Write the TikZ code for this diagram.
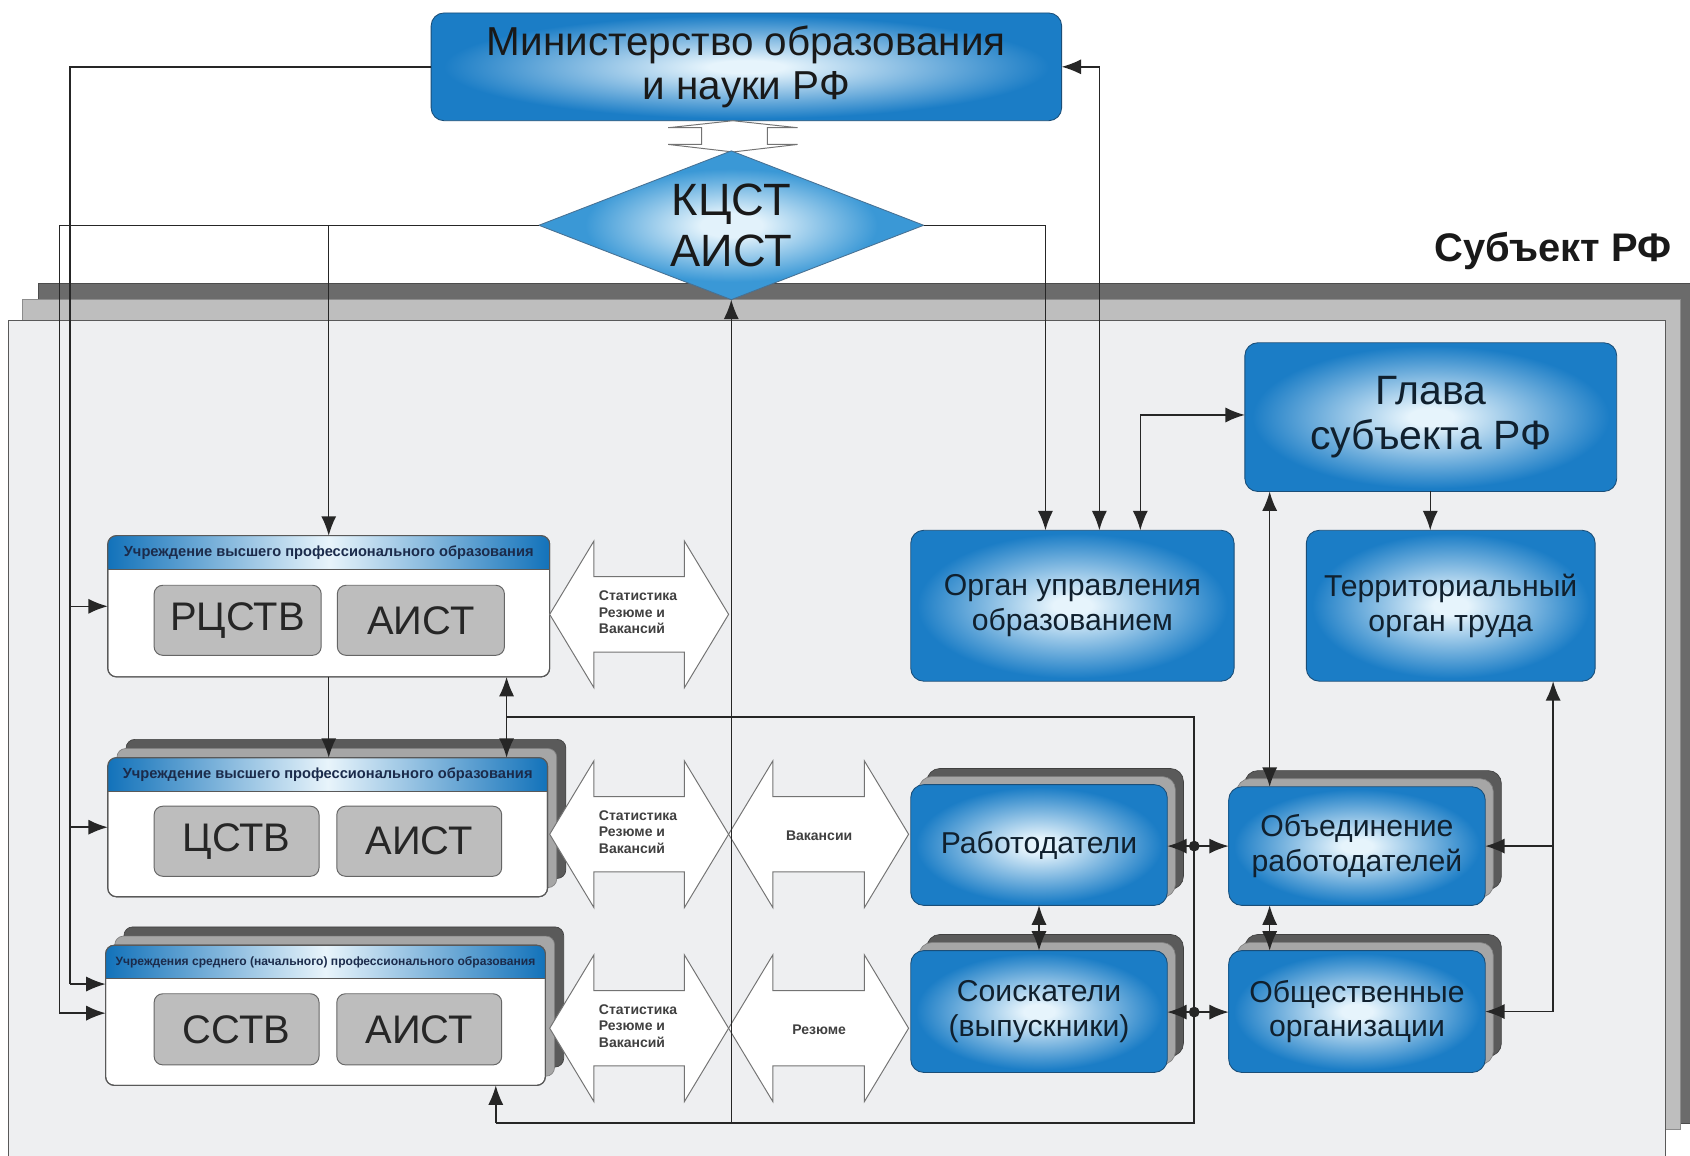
\documentclass[tikz,border=0pt]{standalone}
\usepackage{fontspec}
\setmainfont{Liberation Sans}
\usetikzlibrary{arrows.meta,calc,shapes.geometric}
\pgfdeclarelayer{bg}
\pgfdeclarelayer{stack}
\pgfsetlayers{bg,stack,main}
\definecolor{bxblue}{HTML}{1B7DC6}
\definecolor{bxlight}{HTML}{E6F4FC}
\definecolor{bxedge}{HTML}{1A4E78}
\definecolor{dialight}{HTML}{E2F2FB}
\definecolor{diablue}{HTML}{3A98D6}
\definecolor{hdblue}{HTML}{1272BA}
\definecolor{hdlight}{HTML}{E8F4FB}
\definecolor{panel}{HTML}{EEEFF1}
\definecolor{layerdark}{HTML}{6B6B6B}
\definecolor{layermid}{HTML}{BEBEBE}
\definecolor{stackdark}{HTML}{5A5A5A}
\definecolor{stackmid}{HTML}{A6A6A6}
\definecolor{txt}{HTML}{10202E}
\definecolor{hdtxt}{HTML}{1B2B4B}
\definecolor{innergray}{HTML}{BDBDBD}
\pgfdeclareradialshading{diashade}{\pgfpoint{0bp}{0bp}}{color(0bp)=(dialight); color(4bp)=(dialight); color(19bp)=(diablue); color(50bp)=(diablue)}
\pgfdeclareradialshading{boxshade}{\pgfpoint{0bp}{0bp}}{color(0bp)=(bxlight); color(3bp)=(bxlight); color(24bp)=(bxblue); color(50bp)=(bxblue)}
\tikzset{
  bluebox/.style={rectangle, rounded corners=12pt, draw=bxedge, line width=0.8pt, shading=boxshade, text=txt, align=center, inner sep=0pt, outer sep=0pt, font=\fontsize{28}{32}\selectfont},
  instbox/.style={rectangle, rounded corners=8pt, draw=black!65, fill=white, line width=1pt, inner sep=0pt, outer sep=0pt},
  graybox/.style={rectangle, rounded corners=8pt, draw=black!60, fill=innergray, line width=0.9pt, inner sep=0pt, outer sep=0pt, text=black!85, font=\fontsize{37}{37}\selectfont},
  hdtext/.style={text=hdtxt, inner sep=0pt},
  smalltext/.style={font=\bfseries\fontsize{13}{15}\selectfont, text=black!75, align=left, inner sep=0pt},
  conn/.style={draw=black!85, line width=1.4pt},
  arr/.style={conn, -{Latex[length=18pt,width=14pt]}},
  both/.style={conn, {Latex[length=18pt,width=14pt]}-{Latex[length=18pt,width=14pt]}},
  bigarr/.style={draw=black!55, fill=white, line width=0.9pt, line join=miter},
}
\newcommand{\mkstack}[3]{%
  \begin{pgfonlayer}{stack}
    \filldraw[fill=stackdark, draw=black!75, line width=0.6pt, rounded corners=#3] ($(#1.south west)+(#2,-#2)$) rectangle ($(#1.north east)+(#2,-#2)$);
    \filldraw[fill=stackmid, draw=black!50, line width=0.6pt, rounded corners=#3] ($(#1.south west)+(#2/2,-#2/2)$) rectangle ($(#1.north east)+(#2/2,-#2/2)$);
  \end{pgfonlayer}}
\newcommand{\instheader}[3]{%
  \begin{scope}
    \clip[rounded corners=8pt] (#1.south west) rectangle (#1.north east);
    \shade[left color=hdblue, right color=hdblue, middle color=hdlight] (#1.north west) rectangle ($(#1.north east)+(0,31)$);
  \end{scope}
  \draw[black!65, line width=0.8pt] ($(#1.north west)+(0,31)$) -- ($(#1.north east)+(0,31)$);
  \draw[black!65, line width=1pt, rounded corners=8pt] (#1.south west) rectangle (#1.north east);
  \node[hdtext, font=\bfseries\fontsize{#3}{#3}\selectfont] (#1h) at ($(#1.north)+(0,15.5)$) {#2};}
\newcommand{\hollowarr}[3]{%
  \draw[bigarr] (#1,#3) -- (#1+41,#3-68) -- (#1+41,#3-35) -- (#2-41,#3-35) -- (#2-41,#3-68) -- (#2,#3) -- (#2-41,#3+68) -- (#2-41,#3+35) -- (#1+41,#3+35) -- (#1+41,#3+68) -- cycle;}
\begin{document}
\begin{tikzpicture}[x=1pt,y=-1pt]
\useasboundingbox (0,0) rectangle (1568,1072);
\begin{pgfonlayer}{bg}
  \fill[white] (0,0) rectangle (1568,1072);
  \filldraw[fill=layerdark, draw=black!70, line width=0.6pt] (36,263) rectangle (1600,1042);
  \filldraw[fill=layermid, draw=black!45, line width=0.6pt] (21,278) rectangle (1559,1048);
  \filldraw[fill=panel, draw=black!65, line width=0.9pt] (8,297) rectangle (1545,1100);
\end{pgfonlayer}

\node[font=\bfseries\fontsize{37}{37}\selectfont, text=black!90, inner sep=0pt, anchor=base east] (subj) at (1551,243) {Субъект РФ};

% top
\node[bluebox, minimum width=585pt, minimum height=100pt, font=\fontsize{37.5}{40}\selectfont, text=black!90] (min) at (692.5,62) {Министерство образования\\и науки РФ};
\draw[bigarr] (680,112) -- (740,118.5) -- (712,118.5) -- (712,134) -- (740,134) -- (680,141) -- (620,134) -- (651,134) -- (651,118.5) -- (620,118.5) -- cycle;
\node[diamond, shading=diashade, draw=bxedge!80, line width=0.8pt, minimum width=357pt, minimum height=138pt, inner sep=0pt, outer sep=0pt] (kc) at (678.5,209) {};
\node[font=\fontsize{42}{47}\selectfont, align=center, text=black!90, inner sep=0pt] (kct) at (kc.center) {КЦСТ\\АИСТ};

% right blue boxes
\node[bluebox, minimum width=345pt, minimum height=138pt, font=\fontsize{38}{42}\selectfont] (glava) at (1327.5,387) {Глава\\субъекта РФ};
\node[bluebox, minimum width=300pt, minimum height=140pt] (org) at (995,562) {Орган управления\\образованием};
\node[bluebox, minimum width=268pt, minimum height=140pt] (ter) at (1346,562) {Территориальный\\орган труда};
\node[bluebox, minimum width=238pt, minimum height=112pt] (rab) at (964,784) {Работодатели};
\node[bluebox, minimum width=238pt, minimum height=113pt] (sois) at (964,938.5) {Соискатели\\(выпускники)};
\node[bluebox, minimum width=238pt, minimum height=110pt] (obj) at (1259,785) {Объединение\\работодателей};
\node[bluebox, minimum width=238pt, minimum height=113pt] (obsh) at (1259,938.5) {Общественные\\организации};
\mkstack{rab}{15}{12pt}
\mkstack{sois}{15}{12pt}
\mkstack{obj}{15}{12pt}
\mkstack{obsh}{15}{12pt}

% institutions
\node[instbox, minimum width=410pt, minimum height=131pt] (inst1) at (305,562.5) {};
\instheader{inst1}{Учреждение высшего профессионального образования}{13.6}
\node[graybox, minimum width=155pt, minimum height=65pt] (r1) at (220.5,575.5) {РЦСТВ};
\node[graybox, minimum width=155pt, minimum height=65pt] (a1) at (390.5,575.5) {АИСТ};

\node[instbox, minimum width=408pt, minimum height=129pt] (inst2) at (304,767.5) {};
\mkstack{inst2}{17}{8pt}
\instheader{inst2}{Учреждение высшего профессионального образования}{13.6}
\node[graybox, minimum width=153pt, minimum height=65pt] (r2) at (219.5,780.5) {ЦСТВ};
\node[graybox, minimum width=153pt, minimum height=65pt] (a2) at (389,780.5) {АИСТ};

\node[instbox, minimum width=408pt, minimum height=130pt] (inst3) at (302,942) {};
\mkstack{inst3}{17}{8pt}
\instheader{inst3}{Учреждения среднего (начального) профессионального образования}{11.2}
\node[graybox, minimum width=153pt, minimum height=66pt] (r3) at (219.5,955) {ССТВ};
\node[graybox, minimum width=153pt, minimum height=66pt] (a3) at (389,955) {АИСТ};

% hollow arrows
\hollowarr{510}{676}{570}
\hollowarr{510}{676}{774}
\hollowarr{676}{843}{774}
\hollowarr{510}{676}{954}
\hollowarr{676}{843}{954}
\node[smalltext] (t1) at (592,568) {Статистика\\Резюме и\\Вакансий};
\node[smalltext] (t2) at (592,772) {Статистика\\Резюме и\\Вакансий};
\node[smalltext] (t3) at (592,952) {Статистика\\Резюме и\\Вакансий};
\node[smalltext] (t4) at (760,775) {Вакансии};
\node[smalltext] (t5) at (760,955) {Резюме};

% connectors
\coordinate (pa1) at (65,62);
\coordinate (pa2) at (65,913);
\draw[conn] (min.west) -- (pa1) -- (pa2);
\draw[arr] (pa1 |- inst1.west) -- (inst1.west);
\draw[arr] (pa1 |- inst2.west) -- (inst2.west);
\draw[arr] (pa2) -- (pa2 -| inst3.west);

\coordinate (pb1) at (55,209);
\coordinate (pb2) at (55,940);
\coordinate (pb3) at (305,209);
\draw[conn] (kc.west) -- (pb1) -- (pb2);
\draw[arr] (pb2) -- (pb2 -| inst3.west);
\draw[arr] (pb3) -- (pb3 |- inst1.north);

\coordinate (pc1) at (970,209);
\draw[arr] (kc.east) -- (pc1) -- (pc1 |- org.north);

\coordinate (pd1) at (1020,62);
\draw[both] (pd1 |- org.north) -- (pd1) -- (min.east);

\coordinate (pe1) at (1058,385);
\draw[both] (pe1 |- org.north) -- (pe1) -- (pe1 -| glava.west);

\coordinate (pf1) at (1327,0);
\draw[arr] (pf1 |- glava.south) -- (pf1 |- ter.north);

\coordinate (pg1) at (1178,0);
\draw[both] (pg1 |- glava.south) -- (pg1 |- obj.north);
\draw[both] (pg1 |- obj.south) -- (pg1 |- obsh.north);

\coordinate (ph1) at (1441,0);
\draw[arr] (ph1 |- obsh.east) -- (ph1 |- ter.south);
\draw[arr] (ph1 |- obj.east) -- (obj.east);
\draw[arr] (ph1 |- obsh.east) -- (obsh.east);

\draw[both] (rab.south) -- (sois.north);

\coordinate (pm1) at (470,665);
\coordinate (pm2) at (1108,665);
\coordinate (pm3) at (1108,1042);
\coordinate (pm4) at (460,1042);
\draw[conn] (pm1) -- (pm2) -- (pm3) -- (pm4);
\draw[arr] (pm4) -- (pm4 |- inst3.south);
\draw[arr] (pm1) -- (pm1 |- inst1.south);
\draw[arr] (pm1) -- (pm1 |- inst2.north);
\draw[arr] (kc.south |- pm4) -- (kc.south);
\coordinate (pn1) at (305,0);
\draw[arr] (pn1 |- inst1.south) -- (pn1 |- inst2.north);

\coordinate (dot1) at (1108,785);
\coordinate (dot2) at (1108,939);
\draw[arr] (dot1) -- (rab.east |- dot1);
\draw[arr] (dot1) -- (obj.west);
\draw[arr] (dot2) -- (sois.east |- dot2);
\draw[arr] (dot2) -- (obsh.west |- dot2);
\fill[black!85] (dot1) circle (5pt);
\fill[black!85] (dot2) circle (5pt);
\end{tikzpicture}
\end{document}
